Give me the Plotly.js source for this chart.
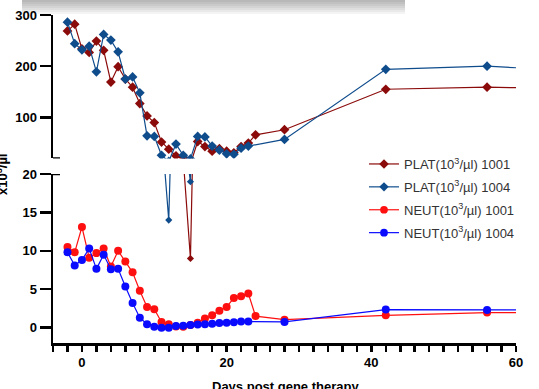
<!DOCTYPE html>
<html>
<head>
<meta charset="utf-8">
<script src="https://cdn.plot.ly/plotly-3.0.1.min.js"></script>
<style>html,body{margin:0;padding:0;background:#fff;}#chart{width:539px;height:389px;}</style>
</head>
<body>
<div id="chart"></div>
<script>
// ---- data (days post gene therapy) ----
const daysPlat1001 = [-2,-1,0,1,2,3,4,5,6,7,8,9,10,11,12,13,14,15,16,17,18,19,20,21,22,23,24,28,42,56,60];
const plat1001 = [269,282,234,227,249,231,169,199,175,159,127,103,90,52,38,25,22,9,53,43,34,39,34,31,43,50,66,76,155,159,158];
const daysPlat1004 = [-2,-1,0,1,2,3,4,5,6,7,8,9,10,11,12,13,14,15,16,17,18,19,20,21,22,23,28,42,56,60];
const plat1004 = [286,244,232,239,189,262,251,228,175,179,148,64,63,26,14,48,26,19,63,62,44,36,29,28,40,44,57,194,200,197];
const daysNeut1001 = [-2,-1,0,1,2,3,4,5,6,7,8,9,10,11,12,13,14,15,16,17,18,19,20,21,22,23,24,28,42,56,60];
const neut1001 = [10.5,9.8,13.1,9.1,9.7,10.3,7.95,10.0,8.6,7.2,4.8,2.7,2.4,0.74,0.44,0.15,0.1,0.35,0.65,1.2,1.6,2.2,2.7,3.85,4.1,4.45,1.5,1.04,1.6,1.96,1.96];
const daysNeut1004 = [-2,-1,0,1,2,3,4,5,6,7,8,9,10,11,12,13,14,15,16,17,18,19,20,21,22,23,28,42,56,60];
const neut1004 = [9.8,8.1,8.8,10.3,7.65,9.5,7.6,7.65,5.35,3.2,1.3,0.44,0.1,0.0,0.0,0.2,0.25,0.35,0.4,0.45,0.5,0.6,0.65,0.7,0.8,0.8,0.74,2.35,2.3,2.3];
const seriesNames = ['PLAT(10<sup>3</sup>/µl) 1001','PLAT(10<sup>3</sup>/µl) 1004','NEUT(10<sup>3</sup>/µl) 1001','NEUT(10<sup>3</sup>/µl) 1004'];
const xTickVals = [0,20,40,60];
const yTopTicks = [100,200,300];
const yBotTicks = [0,5,10,15,20];

// ---- helpers ----
const L=53, R=23, T=15, B=46, W=539, H=389;
const pw = W-L-R, ph = H-T-B;
const xp = px => (px-L)/pw;
const yp = py => (H-B-py)/ph;
const lastDay = 60;
const sizes = (days, s) => days.map(d => d >= lastDay ? 0 : s);

const cPlat1001 = '#8b0a0a', cPlat1004 = '#0f4c8c', cNeut1001 = '#ff1010', cNeut1004 = '#0a0aff';
const font = 'Liberation Sans, Arial, sans-serif';

function tr(x, y, name, color, sym, size, yaxis, show, group){
  return {x:x, y:y, name:name, type:'scatter', mode:'lines+markers', xaxis:'x', yaxis:yaxis,
    showlegend:show, legendgroup:group,
    line:{color:color, width:1.2},
    marker:{symbol:sym, color:color, size:sizes(x,size), opacity:1, line:{width:0}}};
}

const data = [
  tr(daysPlat1001, plat1001, seriesNames[0], cPlat1001, 'diamond', 7.5, 'y2', true, 'g1'),
  tr(daysPlat1004, plat1004, seriesNames[1], cPlat1004, 'diamond', 7.5, 'y2', true, 'g2'),
  tr(daysPlat1001, plat1001, seriesNames[0], cPlat1001, 'diamond', 5.5, 'y', false, 'g1'),
  tr(daysPlat1004, plat1004, seriesNames[1], cPlat1004, 'diamond', 5.5, 'y', false, 'g2'),
  tr(daysNeut1001, neut1001, seriesNames[2], cNeut1001, 'circle', 8, 'y', true, 'g3'),
  tr(daysNeut1004, neut1004, seriesNames[3], cNeut1004, 'circle', 8, 'y', true, 'g4')
];

const tickFont = {family:font, size:13, color:'#000', weight:'bold'};
const axCommon = {showline:true, linecolor:'#000', linewidth:2.5, ticks:'outside', tickcolor:'#000',
  tickwidth:2.5, showgrid:false, zeroline:false, tickfont:tickFont, fixedrange:true};

const shapes = [];
// broken axis caps
shapes.push({type:'line', xref:'x', xsizemode:'pixel', xanchor:-4, x0:-6, x1:7, yref:'y2', y0:20, y1:20, line:{color:'#000', width:2.5}});
shapes.push({type:'line', xref:'x', xsizemode:'pixel', xanchor:-4, x0:-6, x1:7, yref:'y', y0:20, y1:20, line:{color:'#000', width:2.5}});
// screenshot shadow band at the top
for (let i=1;i<=7;i++){
  shapes.push({type:'rect', xref:'paper', yref:'paper', x0:xp(22), x1:xp(405), y0:yp(0), y1:yp(2*i),
    line:{width:0}, fillcolor:'rgba(0,0,0,0.045)', layer:'below'});
}

const layout = {
  width:W, height:H, margin:{l:L, r:R, t:T, b:B, pad:0},
  paper_bgcolor:'#fff', plot_bgcolor:'#fff',
  showlegend:true,
  xaxis: Object.assign({}, axCommon, {range:[-4,60], tickvals:xTickVals, ticklen:6, anchor:'y',
    minor:{dtick:2, tick0:0, ticks:'outside', ticklen:6, tickwidth:2.5, tickcolor:'#000', showgrid:false}}),
  yaxis: Object.assign({}, axCommon, {domain:[0, yp(174)], range:[-2,20], tickvals:yBotTicks, ticklen:11, anchor:'x'}),
  yaxis2: Object.assign({}, axCommon, {domain:[yp(158.4), 1], range:[20,300], tickvals:yTopTicks, ticklen:11, anchor:'x'}),
  legend:{x:xp(364), y:yp(149), xanchor:'left', yanchor:'top', bgcolor:'rgba(0,0,0,0)',
    font:{family:font, size:13, color:'#333'}, tracegroupgap:3, itemwidth:30},
  shapes:shapes,
  annotations:[
    {text:'Days post gene therapy', xref:'paper', yref:'paper', x:xp(285), y:yp(386), xanchor:'center', yanchor:'middle',
     showarrow:false, font:{family:font, size:13, color:'#000', weight:'bold'}},
    {text:'x10<sup>3</sup>/µl', xref:'paper', yref:'paper', x:xp(2), y:yp(175), xanchor:'center', yanchor:'middle',
     textangle:-90, showarrow:false, font:{family:font, size:13, color:'#000', weight:'bold'}}
  ]
};

Plotly.newPlot('chart', data, layout, {displayModeBar:false, staticPlot:true});
</script>
</body>
</html>
